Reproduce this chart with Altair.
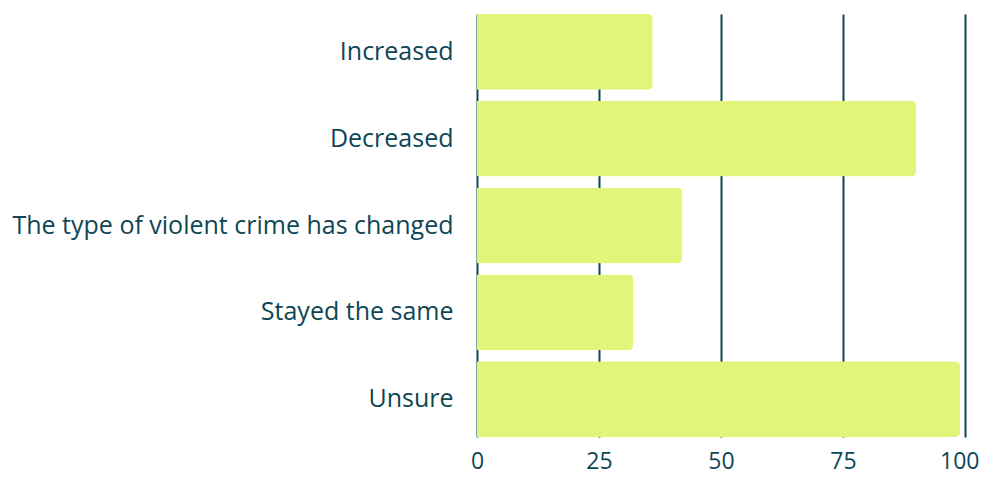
import altair as alt
import pandas as pd

categories = ["Increased", "Decreased", "The type of violent crime has changed", "Stayed the same", "Unsure"]
values = [36, 90, 42, 32, 99]
ticks = [0, 25, 50, 75, 100]

df = pd.DataFrame({"category": categories, "value": values})

TEXT = "#0f4654"
FONT = "Open Sans"
chart = alt.Chart(df).mark_bar(color="#e2f57b", cornerRadiusEnd=5).encode(
    x=alt.X("value:Q", scale=alt.Scale(domain=[0, 100], nice=False),
            axis=alt.Axis(values=ticks, title=None, grid=True, gridColor=TEXT, gridWidth=2,
                          gridOpacity=1, domain=False, ticks=False, labelPadding=13,
                          labelFlush=False,
                          labelAlign=alt.condition("datum.value == 100", alt.value("right"), alt.value("center")),
                          labelOffset=alt.condition("datum.value == 100", alt.value(14), alt.value(0)),
                          labelFontSize=23, labelColor=TEXT, labelFont=FONT)),
    y=alt.Y("category:N", sort=categories,
            scale=alt.Scale(paddingInner=0.1264, paddingOuter=0),
            axis=alt.Axis(title=None, domain=False, ticks=False, labelPadding=24,
                          labelFontSize=25, labelColor=TEXT, labelFont=FONT, labelLimit=600)),
).properties(
    width=488, height=423,
    autosize=alt.AutoSizeParams(type="none"),
    padding={"left": 469, "top": 6, "right": 15, "bottom": 40},
).configure_view(stroke=None)

chart.save("out.html", embed_options={"renderer": "svg", "actions": False})
